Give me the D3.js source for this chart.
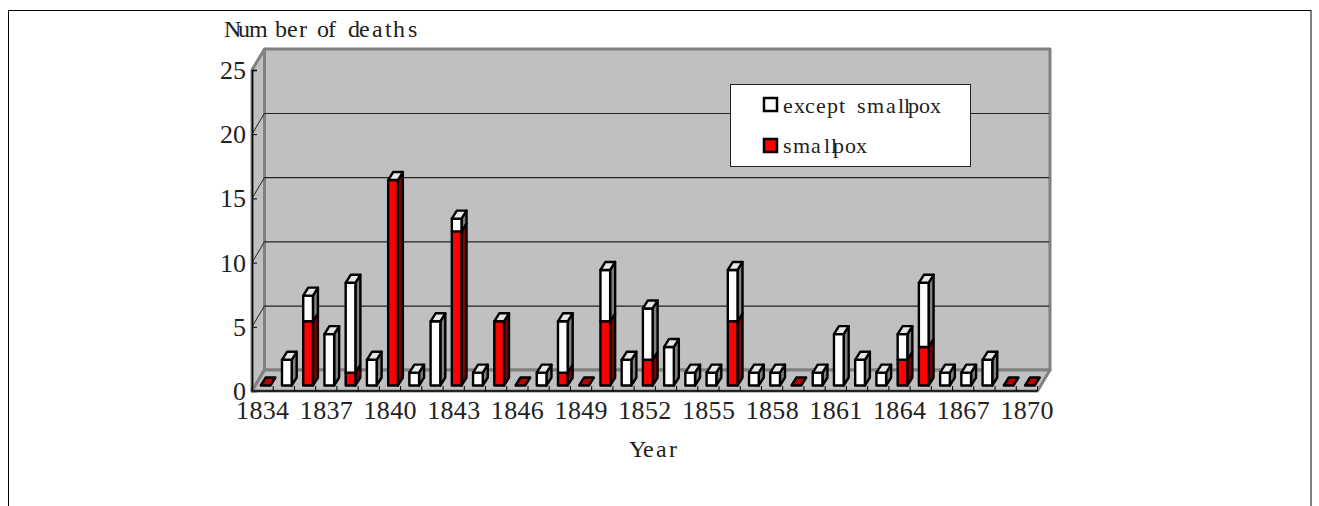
<!DOCTYPE html>
<html><head><meta charset="utf-8">
<script src="https://cdnjs.cloudflare.com/ajax/libs/d3/7.8.5/d3.min.js"></script>
<style>html,body{margin:0;padding:0;background:#fff;overflow:hidden}svg{display:block}</style>
</head><body><svg id="c" width="1319" height="506"></svg>
<script>
const years = d3.range(1834, 1871);
const smallpox = [0,0,5,0,1,0,16,0,0,12,0,5,0,0,1,0,5,0,2,0,0,0,5,0,0,0,0,0,0,0,2,3,0,0,0,0,0];
const exceptSmallpox = [0,2,2,4,7,2,0,1,5,1,1,0,0,1,4,0,4,2,4,3,1,1,4,1,1,0,1,4,2,1,2,5,1,1,2,0,0];
const yTicks = [0,5,10,15,20,25];
const xTickYears = d3.range(1834, 1871, 3);
const seriesNames = ["except smallpox","smallpox"];
const yTitle = "Number of deaths", xTitle = "Year";

const svg = d3.select("#c");
const FONT = "'Liberation Serif', serif", INK = "#222";
const depth = {x:12.5, y:-21}, barDepth = {x:5, y:-8};
const x = d3.scaleBand().domain(years).range([252,1037.5]).paddingInner(0.543).paddingOuter(0.2715);
const y = d3.scaleLinear().domain([0,25]).range([391,70]);
const step = x.step();
const poly = (g,pts,fill,stroke,sw) => g.append("polygon").attr("points",pts.map(p=>p.join(",")).join(" "))
  .attr("fill",fill).attr("stroke",stroke||"none").attr("stroke-width",sw||0).attr("stroke-linejoin","round");
// Reproduces the reference's uneven glyph placement: one start offset per character.
function placedText(str,offsets,x0,base,size){
  svg.append("text").attr("y",base).attr("font-family",FONT).attr("font-size",size).attr("fill",INK)
    .attr("xml:space","preserve").attr("x",offsets.map(o=>x0+o).join(" ")).text(str);
}
svg.append("rect").attr("x",8.5).attr("y",10.5).attr("width",1302.5).attr("height",520).attr("fill","#fff").attr("stroke","#000");

const L=252,R=1037.5,B=y(0),T=y(25);
const g = svg.append("g");
poly(g,[[L+depth.x,B+depth.y],[R+depth.x,B+depth.y],[R+depth.x,T+depth.y],[L+depth.x,T+depth.y]],"#c0c0c0","#808080",3);
poly(g,[[L,B],[L+depth.x,B+depth.y],[L+depth.x,T+depth.y],[L,T]],"#c0c0c0","#808080",3);
poly(g,[[L,B],[R,B],[R+depth.x,B+depth.y],[L+depth.x,B+depth.y]],"#c0c0c0","#808080",3);
yTicks.slice(1,-1).forEach(v=>{
  g.append("line").attr("x1",L+depth.x).attr("x2",R+depth.x-1).attr("y1",y(v)+depth.y+0.3).attr("y2",y(v)+depth.y+0.3).attr("stroke","#222").attr("stroke-width",1.2);
  g.append("line").attr("x1",L).attr("x2",L+depth.x).attr("y1",y(v)).attr("y2",y(v)+depth.y).attr("stroke","#222").attr("stroke-width",1);
});
const ya = svg.append("g").attr("transform",`translate(${L},0)`).call(d3.axisRight(y).tickValues(yTicks).tickSize(5).tickFormat(""));
ya.selectAll("path,line").attr("stroke","#000").attr("stroke-width",1);
ya.select("path").attr("stroke-width",1.5);
const xa = svg.append("g").attr("transform",`translate(0,${B})`);
xa.append("line").attr("x1",L).attr("x2",R).attr("stroke","#222").attr("stroke-width",2);
xa.selectAll("line.t").data(d3.range(0,38)).join("line").attr("class","t")
  .attr("x1",i=>L+step*i).attr("x2",i=>L+step*i).attr("y1",0).attr("y2",-5).attr("stroke","#000");

const base = y(0)-5.5, h = v => y(0)-y(v);
const bars = svg.append("g");
function box(xl,w,y0,y1,front,side){
  const d=barDepth;
  poly(bars,[[xl+w,y0],[xl+w+d.x,y0+d.y],[xl+w+d.x,y1+d.y],[xl+w,y1]],side,"#000",2.4);
  poly(bars,[[xl,y0],[xl+w,y0],[xl+w,y1],[xl,y1]],front,"#000",2.4);
}
years.forEach((yr,i)=>{
  const xl=x(yr)+3,w=x.bandwidth(),d=barDepth,a=smallpox[i],b=exceptSmallpox[i];
  if(a>0) box(xl,w,base,base-h(a),"#ff0000","#800000");
  if(b>0) box(xl,w,base-h(a),base-h(a+b),"#ffffff","#808080");
  const top=base-h(a+b);
  poly(bars,[[xl,top],[xl+w,top],[xl+w+d.x,top+d.y],[xl+d.x,top+d.y]],(a+b===0)?"#c00000":"#e6e6e6","#000",2.4);
});

yTicks.forEach(v=>svg.append("text").attr("x",246).attr("y",y(v)+9).attr("text-anchor","end")
  .attr("font-family",FONT).attr("font-size",26).attr("fill",INK).text(v));
xTickYears.forEach(v=>svg.append("text").attr("x",x(v)+x.bandwidth()/2).attr("y",419).attr("text-anchor","middle")
  .attr("font-family",FONT).attr("font-size",26).attr("textLength",53).attr("fill",INK).text(v));
placedText(yTitle,[0,14,25,51,63,75,88,93,104,115,124,135,148,161,169,184],224,37,24);
placedText(xTitle,[0,14,27,40],629,457,24);

svg.append("rect").attr("x",730.5).attr("y",84.5).attr("width",240).attr("height",82).attr("fill","#fff").attr("stroke","#222");
const legendOffsets = [[0,11,22,33,44,56,68,74,84,103,115,121,125,136,147],[0,10,28,41,48,50,62,73]];
[["#fff",105,113],["#f00",146,153]].forEach(([c,cy,bl],i)=>{
  svg.append("rect").attr("x",764).attr("y",cy-7).attr("width",13).attr("height",13).attr("fill",c).attr("stroke","#000").attr("stroke-width",2.5);
  placedText(seriesNames[i],legendOffsets[i],783,bl,22);
});
</script></body></html>
